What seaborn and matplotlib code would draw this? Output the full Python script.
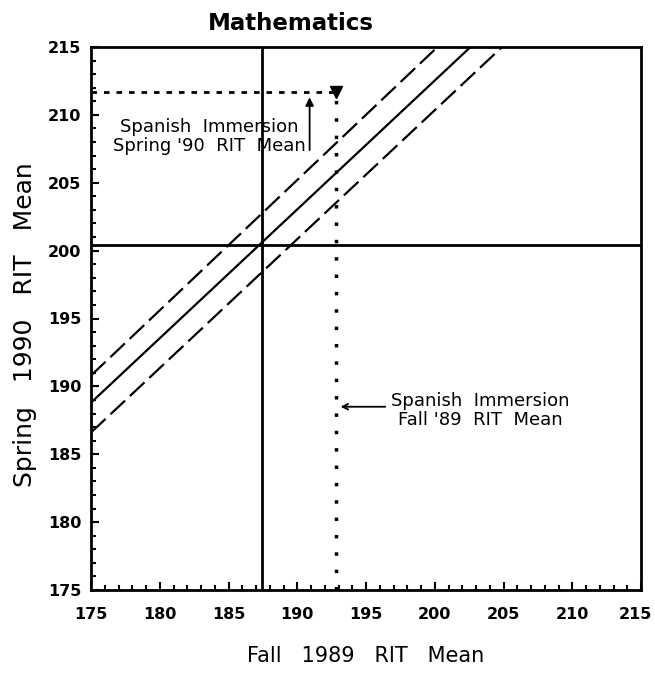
import matplotlib
matplotlib.use("Agg")
import matplotlib.pyplot as plt
import matplotlib.transforms as mtransforms
import seaborn as sns
import numpy as np
import pandas as pd

# ---- data ----
upper_x = [175, 200.2]
upper_y = [190.8, 215]
fit_x = [175, 202.6]
fit_y = [188.8, 215]
lower_x = [175, 204.9]
lower_y = [186.6, 215]

all_fall_mean = 187.4
all_spring_mean = 200.4
spanish_fall_mean = 192.8
spanish_spring_mean = 211.7

x_ticks = [175, 180, 185, 190, 195, 200, 205, 210, 215]
y_ticks = [175, 180, 185, 190, 195, 200, 205, 210, 215]

title = "Mathematics"
x_label = "Fall   1989   RIT   Mean"
y_label = "Spring   1990   RIT   Mean"
note_spring = "Spanish  Immersion\nSpring '90  RIT  Mean"
note_fall = "Spanish  Immersion\nFall '89  RIT  Mean"

sns.set_style("white", {"text.color": "black", "axes.labelcolor": "black",
                        "xtick.color": "black", "ytick.color": "black"})
plt.rcParams["font.family"] = ["DejaVu Sans"]

fig = plt.figure(figsize=(6.55, 6.73), dpi=100)
ax = fig.add_axes([91/655, 1-590/673, 550/655, 543/673])

sns.lineplot(x=upper_x, y=upper_y, ax=ax, color="black", lw=1.6,
             linestyle=(0, (9, 3)))
sns.lineplot(x=fit_x, y=fit_y, ax=ax, color="black", lw=1.6)
sns.lineplot(x=lower_x, y=lower_y, ax=ax, color="black", lw=1.6,
             linestyle=(0, (9, 3)))

ax.axvline(all_fall_mean, color="black", lw=2)
ax.axhline(all_spring_mean, color="black", lw=2)

# Spanish immersion markers
ax.plot([175, spanish_fall_mean], [spanish_spring_mean, spanish_spring_mean],
        color="black", lw=2, linestyle=(0, (2, 2.5)))
ax.plot([spanish_fall_mean, spanish_fall_mean], [175, spanish_spring_mean],
        color="black", lw=2.5, linestyle=(0, (1, 4)))
ax.plot([spanish_fall_mean], [spanish_spring_mean], marker="v", color="black",
        markersize=8, clip_on=False)

ax.annotate("", xy=(190.9, 211.5), xytext=(190.9, 207.2),
            arrowprops=dict(arrowstyle="-|>", color="black", lw=1.3,
                            mutation_scale=12))
ax.text(183.6, 208.4, note_spring, ha="center", va="center", fontsize=13,
        linespacing=1.05)
ax.annotate("", xy=(192.95, 188.5), xytext=(196.6, 188.5),
            arrowprops=dict(arrowstyle="->", color="black", lw=1.3))
ax.text(203.3, 188.2, note_fall, ha="center", va="center", fontsize=13,
        linespacing=1.05)

ax.set_xlim(175, 215)
ax.set_ylim(175, 215)
ax.set_xticks(x_ticks)
ax.set_yticks(y_ticks)
ax.set_xticks(np.arange(175, 216, 1), minor=True)
ax.set_yticks(np.arange(175, 216, 1), minor=True)
ax.tick_params(which="both", direction="in", bottom=True, left=True,
               top=False, right=False, width=1.5, color="black")
ax.tick_params(which="major", length=6, labelsize=11.5)
ax.tick_params(axis="x", which="major", pad=12)
ax.tick_params(axis="y", which="major", pad=7)
ax.tick_params(which="minor", length=3.5)
xlabs = ax.get_xticklabels()
for lab in xlabs + ax.get_yticklabels():
    lab.set_fontweight("bold")
# the last x tick label sits slightly inside the right edge in the reference
xlabs[-1].set_transform(xlabs[-1].get_transform() +
                        mtransforms.ScaledTranslation(-6/100, 0, fig.dpi_scale_trans))

for s in ax.spines.values():
    s.set_color("black")
    s.set_linewidth(2)

ax.set_xlabel(x_label, fontsize=15)
ax.set_ylabel(y_label, fontsize=18)
ax.xaxis.set_label_coords(0.5, -(646 - 590) / 543)
ax.yaxis.set_label_coords((37 - 91) / 550, 0.5 + (318 - 324) / 543)
fig.text(291/655, 1-23/673, title, ha="center", va="center",
         fontsize=16.5, fontweight="bold")

fig.savefig("out.png", dpi=100)
